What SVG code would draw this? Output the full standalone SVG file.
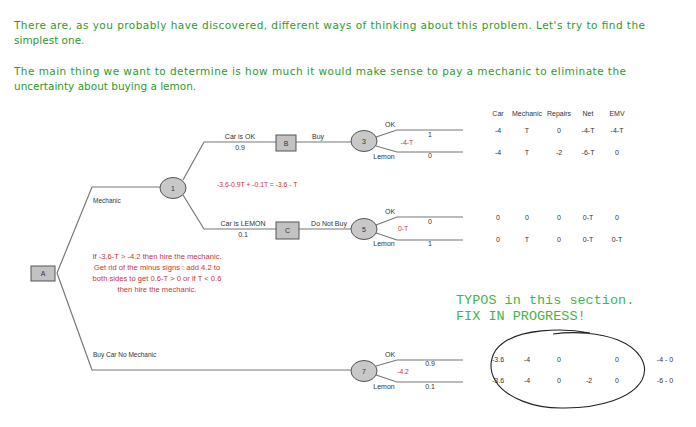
<svg xmlns="http://www.w3.org/2000/svg" width="696" height="427" viewBox="0 0 696 427">
<style>
.intro{font-family:"DejaVu Sans",Verdana,sans-serif;font-size:10.5px;fill:#2f9a2f}
.mono{font-family:"Liberation Mono","DejaVu Sans Mono",monospace;font-size:13.5px;fill:#3fb54a}
.lbl{font-family:"Liberation Sans",Arial,sans-serif;font-size:6.5px;fill:#333}
.val{font-family:"Liberation Sans",Arial,sans-serif;font-size:7px;fill:#333;text-anchor:middle}
.red{font-family:"Liberation Sans",Arial,sans-serif;font-size:6.8px;fill:#c9343c}
.redp{font-family:"Liberation Sans",Arial,sans-serif;font-size:7.6px;fill:#c9343c;text-anchor:middle}
.edge{fill:none;stroke:#777;stroke-width:1.2}
.chance{fill:#c8c8c8;stroke:#555;stroke-width:1}
.dec{fill:#c2c2c2;stroke:#555;stroke-width:1}
.nt{font-family:"Liberation Sans",Arial,sans-serif;font-size:7px;fill:#333;text-anchor:middle}
</style>
<rect width="696" height="427" fill="#fff"/>
<text class="intro" x="14" y="29" textLength="631" lengthAdjust="spacing">There are, as you probably have discovered, different ways of thinking about this problem. Let's try to find the</text>
<text class="intro" x="14" y="44">simplest one.</text>
<text class="intro" x="14" y="75" textLength="612" lengthAdjust="spacing">The main thing we want to determine is how much it would make sense to pay a mechanic to eliminate the</text>
<text class="intro" x="14" y="90">uncertainty about buying a lemon.</text>

<g id="connectors">
<path class="edge" d="M57,273 L92,187 L160,187"/>
<path class="edge" d="M57,273 L92,370 L351,370"/>
<path class="edge" d="M183,180 L204,142 L276,142"/>
<path class="edge" d="M296,142 L351,142"/>
<path class="edge" d="M183,195 L204,229 L276,229"/>
<path class="edge" d="M299,229 L351,229"/>
<path class="edge" d="M376,137 L397,130 L463,130"/>
<path class="edge" d="M376,146 L397,152 L463,152"/>
<path class="edge" d="M376,225 L397,217 L463,217"/>
<path class="edge" d="M376,233 L397,240 L463,240"/>
<path class="edge" d="M376,366 L397,360 L463,360"/>
<path class="edge" d="M376,375 L397,382 L463,382"/>
</g>

<g id="A"><rect class="dec" x="31" y="266" width="24" height="15"/><text class="nt" x="43" y="276">A</text></g>
<g id="n1"><ellipse class="chance" cx="173" cy="188" rx="13" ry="10.5"/><text class="nt" x="173" y="190.5">1</text></g>
<g id="B"><rect class="dec" x="276" y="135" width="20" height="16"/><text class="nt" x="286" y="145.5">B</text></g>
<g id="C"><rect class="dec" x="276" y="222" width="23" height="17"/><text class="nt" x="287.5" y="232.5">C</text></g>
<g id="n3"><ellipse class="chance" cx="364" cy="141" rx="13" ry="10.5"/><text class="nt" x="364" y="143.5">3</text></g>
<g id="n5"><ellipse class="chance" cx="364" cy="229" rx="13" ry="10.5"/><text class="nt" x="364" y="231.5">5</text></g>
<g id="n7"><ellipse class="chance" cx="364" cy="371" rx="13" ry="10.5"/><text class="nt" x="364" y="373.5">7</text></g>

<g id="labels">
<text class="lbl" x="93" y="203">Mechanic</text>
<text class="lbl" x="93" y="357">Buy Car No Mechanic</text>
<text class="val" x="240" y="139">Car is OK</text>
<text class="val" x="240" y="150">0.9</text>
<text class="val" x="243" y="226">Car is LEMON</text>
<text class="val" x="243" y="237">0.1</text>
<text class="val" x="318" y="139">Buy</text>
<text class="val" x="329" y="226">Do Not Buy</text>
<text class="val" x="390" y="127">OK</text>
<text class="val" x="384" y="159">Lemon</text>
<text class="val" x="430" y="137">1</text>
<text class="val" x="430" y="158">0</text>
<text class="val" x="390" y="214">OK</text>
<text class="val" x="384" y="246">Lemon</text>
<text class="val" x="430" y="224">0</text>
<text class="val" x="430" y="246">1</text>
<text class="val" x="390" y="357">OK</text>
<text class="val" x="384" y="389">Lemon</text>
<text class="val" x="430" y="366">0.9</text>
<text class="val" x="430" y="389">0.1</text>
</g>

<g id="red">
<text class="red" x="407" y="145" text-anchor="middle">-4-T</text>
<text class="red" x="403" y="231" text-anchor="middle">0-T</text>
<text class="red" x="403" y="374" text-anchor="middle">-4.2</text>
<text class="red" x="217" y="187">-3.6-0.9T + -0.1T = -3.6 - T</text>
<text class="redp" x="157" y="259">If -3.6-T &gt; -4.2 then hire the mechanic.</text>
<text class="redp" x="157" y="270">Get rid of the minus signs : add 4.2 to</text>
<text class="redp" x="157" y="281">both sides to get 0.6-T &gt; 0 or if T &lt; 0.6</text>
<text class="redp" x="157" y="292">then hire the mechanic.</text>
</g>

<g id="table">
<text class="val" x="498" y="116">Car</text>
<text class="val" x="527" y="116">Mechanic</text>
<text class="val" x="559" y="116">Repairs</text>
<text class="val" x="588" y="116">Net</text>
<text class="val" x="617" y="116">EMV</text>
<text class="val" x="498" y="133">-4</text><text class="val" x="527" y="133">T</text><text class="val" x="559" y="133">0</text><text class="val" x="588" y="133">-4-T</text><text class="val" x="617" y="133">-4-T</text>
<text class="val" x="498" y="155">-4</text><text class="val" x="527" y="155">T</text><text class="val" x="559" y="155">-2</text><text class="val" x="588" y="155">-6-T</text><text class="val" x="617" y="155">0</text>
<text class="val" x="498" y="220">0</text><text class="val" x="527" y="220">0</text><text class="val" x="559" y="220">0</text><text class="val" x="588" y="220">0-T</text><text class="val" x="617" y="220">0</text>
<text class="val" x="498" y="242">0</text><text class="val" x="527" y="242">T</text><text class="val" x="559" y="242">0</text><text class="val" x="588" y="242">0-T</text><text class="val" x="617" y="242">0-T</text>
<text class="val" x="498" y="362">-3.6</text><text class="val" x="527" y="362">-4</text><text class="val" x="559" y="362">0</text><text class="val" x="617" y="362">0</text><text class="val" x="665" y="362">-4 - 0</text>
<text class="val" x="498" y="383">-3.6</text><text class="val" x="527" y="383">-4</text><text class="val" x="559" y="383">0</text><text class="val" x="589" y="383">-2</text><text class="val" x="617" y="383">0</text><text class="val" x="665" y="383">-6 - 0</text>
</g>

<text class="mono" x="456" y="304">TYPOS in this section.</text>
<text class="mono" x="456" y="320">FIX IN PROGRESS!</text>

<path d="M590,333 C560,327 520,330 503,343 C490,352 488,368 495,380 C505,398 535,409 565,408 C600,408 632,398 642,380 C650,364 638,348 618,340 C600,333 575,331 553,334" fill="none" stroke="#222" stroke-width="1.1"/>
</svg>
